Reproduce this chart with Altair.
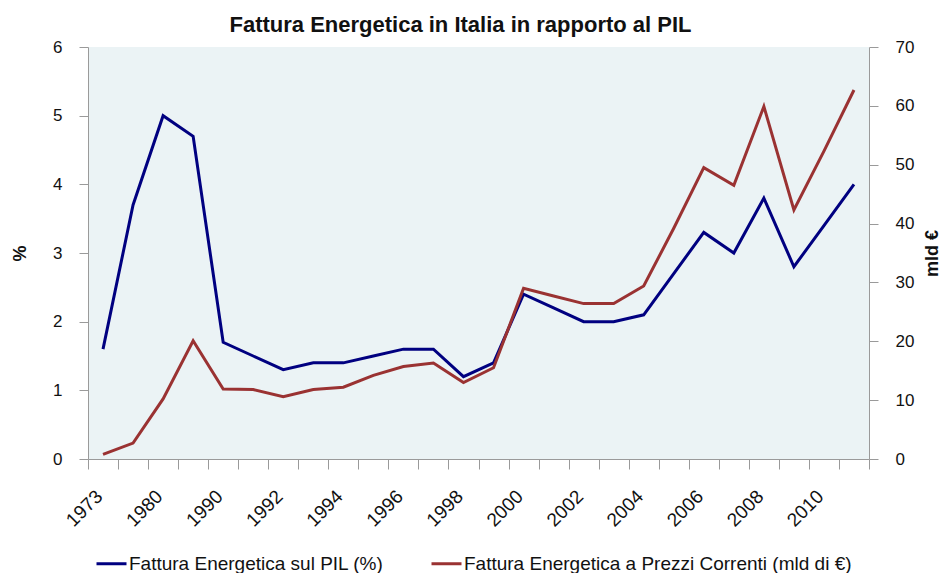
import altair as alt
import pandas as pd

years = ["1973", "1974", "1980", "1985", "1990", "1991", "1992", "1993", "1994",
         "1995", "1996", "1997", "1998", "1999", "2000", "2001", "2002", "2003",
         "2004", "2005", "2006", "2007", "2008", "2009", "2010", "2011"]
labeled = ["1973", "1980", "1990", "1992", "1994", "1996", "1998", "2000",
           "2002", "2004", "2006", "2008", "2010"]
pil_pct = [1.6, 3.7, 5.0, 4.7, 1.7, 1.5, 1.3, 1.4, 1.4, 1.5, 1.6, 1.6, 1.2,
           1.4, 2.4, 2.2, 2.0, 2.0, 2.1, 2.7, 3.3, 3.0, 3.8, 2.8, 3.4, 4.0]
mld_eur = [0.8, 2.7, 10.2, 20.1, 11.9, 11.8, 10.6, 11.8, 12.2, 14.2, 15.7, 16.3,
           13.0, 15.5, 29.0, 27.7, 26.4, 26.4, 29.4, 39.2, 49.5, 46.5, 59.9, 42.3,
           52.3, 62.7]

s1 = "Fattura Energetica sul PIL (%)"
s2 = "Fattura Energetica a Prezzi Correnti (mld di €)"

df = pd.DataFrame({"anno": years, "pil": pil_pct, "mld": mld_eur})
df1 = df.assign(serie=s1)
df2 = df.assign(serie=s2)

FONT = "Liberation Sans, Arial, Helvetica, sans-serif"
GRAY = "#9a9a9a"

label_list = "[" + ",".join("'" + l + "'" for l in labeled) + "]"

x = alt.X(
    "anno:O",
    sort=years,
    scale=alt.Scale(type="band", paddingInner=0, paddingOuter=0),
    axis=alt.Axis(
        title=None,
        tickBand="extent",
        labelOffset=-4,
        labelAngle=-45,
        labelAlign="right",
        labelBaseline="middle",
        labelPadding=24,
        labelFontSize=19,
        labelFont=FONT,
        labelColor="#111111",
        labelExpr="indexof(" + label_list + ", datum.label) >= 0 ? datum.label : ''",
        tickSize=10,
        tickColor=GRAY,
        domainColor=GRAY,
        labelOverlap=False,
        grid=False,
    ),
)

color = alt.Color(
    "serie:N",
    scale=alt.Scale(domain=[s1, s2], range=["#000080", "#9a3232"]),
    legend=alt.Legend(
        title=None,
        orient="none",
        legendX=7,
        legendY=500,
        direction="horizontal",
        symbolType="stroke",
        symbolSize=900,
        symbolStrokeWidth=3,
        labelFontSize=19,
        labelFont=FONT,
        labelColor="#111111",
        labelOffset=1,
        columnPadding=41,
        labelLimit=600,
    ),
)

left = alt.Chart(df1).mark_line(strokeWidth=3).encode(
    x=x,
    y=alt.Y(
        "pil:Q",
        scale=alt.Scale(domain=[0, 6]),
        axis=alt.Axis(
            title="%",
            values=[0, 1, 2, 3, 4, 5, 6],
            tickSize=9,
            labelPadding=17,
            labelFontSize=17,
            labelFont=FONT,
            labelColor="#111111",
            tickColor=GRAY,
            domainColor=GRAY,
            grid=False,
            titleFont=FONT,
            titleFontSize=18,
            titleFontWeight="bold",
            titleColor="#111111",
            titleAngle=270,
            titleX=-68,
            titleY=206,
            titleAlign="center",
            titleBaseline="middle",
        ),
    ),
    color=color,
)

right = alt.Chart(df2).mark_line(strokeWidth=3).encode(
    x=x,
    y=alt.Y(
        "mld:Q",
        scale=alt.Scale(domain=[0, 70]),
        axis=alt.Axis(
            title="mld €",
            orient="right",
            values=[0, 10, 20, 30, 40, 50, 60, 70],
            tickSize=9,
            labelPadding=17,
            labelFontSize=17,
            labelFont=FONT,
            labelColor="#111111",
            tickColor=GRAY,
            domainColor=GRAY,
            grid=False,
            titleFont=FONT,
            titleFontSize=18,
            titleFontWeight="bold",
            titleColor="#111111",
            titleAngle=270,
            titleX=63,
            titleY=206,
            titleAlign="center",
            titleBaseline="middle",
        ),
    ),
    color=color,
)

chart = (
    alt.layer(left, right)
    .resolve_scale(y="independent")
    .properties(
        width=781,
        height=412,
        padding={"left": 80, "top": 39, "right": 72, "bottom": 114},
        autosize=alt.AutoSizeParams(type="none"),
        background="white",
        title=alt.Title(
            "Fattura Energetica in Italia in rapporto al PIL",
            font=FONT,
            fontSize=22,
            fontWeight="bold",
            color="#111111",
            anchor="middle",
            dx=-18,
            dy=11,
            offset=12,
        ),
    )
    .configure_view(fill="#ebf3f5", stroke=None)
)

chart.save("out.html", embed_options={"renderer": "svg", "actions": False})
